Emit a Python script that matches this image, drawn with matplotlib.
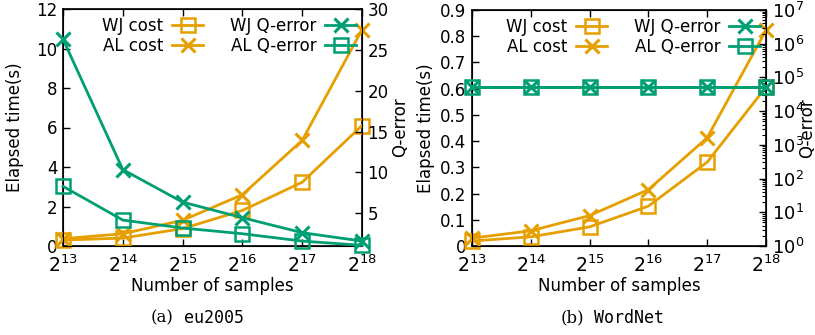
import math
import matplotlib
matplotlib.use("Agg")
import matplotlib.pyplot as plt
from matplotlib.ticker import FixedLocator, FuncFormatter, LogLocator, NullFormatter

plt.rcParams['font.family'] = ['DejaVu Sans']
plt.rcParams['mathtext.fontset'] = 'dejavusans'

samples = [2**13, 2**14, 2**15, 2**16, 2**17, 2**18]
sample_exps = [13, 14, 15, 16, 17, 18]

# eu2005
eu_wj_cost = [0.30, 0.40, 0.88, 1.80, 3.23, 6.10]
eu_al_cost = [0.37, 0.62, 1.30, 2.60, 5.35, 10.95]
eu_wj_qerr = [26.3, 10.35, 6.37, 4.46, 2.63, 1.6]
eu_al_qerr = [8.3, 4.17, 3.2, 2.5, 1.6, 1.08]

# WordNet
wn_wj_cost = [0.019, 0.035, 0.073, 0.152, 0.32, 0.606]
wn_al_cost = [0.030, 0.058, 0.116, 0.215, 0.413, 0.823]
wn_wj_qerr = [51000, 51000, 51000, 51000, 51000, 51000]
wn_al_qerr = [51000, 51000, 51000, 51000, 51000, 51000]

ORANGE = '#E69F00'
GREEN = '#009E73'

W, H = 815, 335
fig = plt.figure(figsize=(W / 100, H / 100), dpi=100)

FS = 12
XFS = 13.5
lw = 2.0
ms = 9.5
mew = 1.8


def xfmt(v, p):
    iv = int(round(v))
    if iv in samples:
        return r'$2^{%d}$' % sample_exps[samples.index(iv)]
    return ''


def make_panel(x0, x1, y0, y1, wj_c, al_c, wj_q, al_q, ylim, yticks, ytlabels,
               qlog, caption_lbl, caption_name, ylpad, y2lpad, cap_split):
    ax = fig.add_axes([x0 / W, (H - y1) / H, (x1 - x0) / W, (y1 - y0) / H])
    ax.set_xscale('log', base=2)
    ax.set_xlim(samples[0], samples[-1])
    ax.xaxis.set_major_locator(FixedLocator(samples))
    ax.xaxis.set_major_formatter(FuncFormatter(xfmt))
    ax.xaxis.set_minor_formatter(NullFormatter())
    ax.xaxis.set_minor_locator(FixedLocator([]))
    ax.set_ylim(*ylim)
    ax.set_yticks(yticks)
    ax.set_yticklabels(ytlabels)
    ax.tick_params(axis='both', direction='in', length=5, width=1, labelsize=FS, pad=4)
    ax.tick_params(axis='x', top=True, pad=6, labelsize=XFS)
    for s in ax.spines.values():
        s.set_linewidth(1.2)
    l1, = ax.plot(samples, wj_c, color=ORANGE, lw=lw, marker='s', ms=ms,
                  mfc='none', mew=mew, label='WJ cost', zorder=3)
    l2, = ax.plot(samples, al_c, color=ORANGE, lw=lw, marker='x', ms=ms + 1,
                  mew=mew + 0.4, label='AL cost', zorder=3)
    ax.set_xlabel('Number of samples', fontsize=FS, labelpad=1)
    ax.set_ylabel('Elapsed time(s)', fontsize=FS, labelpad=ylpad)

    ax2 = ax.twinx()
    if qlog:
        ax2.set_yscale('log')
        ax2.set_ylim(1, 1e7)
        ax2.yaxis.set_major_locator(FixedLocator([10**k for k in range(8)]))
        ax2.yaxis.set_major_formatter(FuncFormatter(lambda v, p: r'$10^{%d}$' % round(math.log10(v))))
        ax2.yaxis.set_minor_locator(LogLocator(base=10, subs=range(2, 10), numticks=20))
        ax2.yaxis.set_minor_formatter(NullFormatter())
        ax2.tick_params(axis='y', labelsize=13)
    else:
        ax2.set_ylim(1, 30)
        ax2.set_yticks([5, 10, 15, 20, 25, 30])
        ax2.tick_params(axis='y', labelsize=FS)
    ax2.tick_params(axis='y', direction='in', length=5, width=1, pad=4)
    ax2.tick_params(axis='y', which='minor', direction='in', length=3, width=0.8)
    l3, = ax2.plot(samples, wj_q, color=GREEN, lw=lw, marker='x', ms=ms + 1,
                   mew=mew + 0.4, label='WJ Q-error', zorder=3)
    l4, = ax2.plot(samples, al_q, color=GREEN, lw=lw, marker='s', ms=ms,
                   mfc='none', mew=mew, label='AL Q-error', zorder=3)
    ax2.set_ylabel('Q-error', fontsize=FS, labelpad=y2lpad)
    for ln in (l1, l2, l3, l4):
        ln.set_clip_on(False)
    leg = ax2.legend(handles=[l1, l2, l3, l4], ncol=2, loc='upper right',
                     bbox_to_anchor=(1.015, 1.01), frameon=False, markerfirst=False,
                     fontsize=FS, handlelength=1.9, handletextpad=0.5,
                     columnspacing=1.6, labelspacing=0.12, borderaxespad=0.2)
    for t in leg.get_texts():
        t.set_ha('right')
    fig.text(cap_split[0] / W, (H - 318) / H, caption_lbl, fontsize=12,
             family='DejaVu Serif', ha='right', va='center')
    fig.text(cap_split[1] / W, (H - 318) / H, caption_name, fontsize=12,
             family='DejaVu Sans Mono', ha='left', va='center')
    return ax, ax2


make_panel(63, 362, 9, 246, eu_wj_cost, eu_al_cost, eu_wj_qerr, eu_al_qerr,
           (0, 12), [0, 2, 4, 6, 8, 10, 12], ['0', '2', '4', '6', '8', '10', '12'],
           False, '(a)', 'eu2005', 9, 2, (174, 184))
make_panel(472, 766, 10, 246, wn_wj_cost, wn_al_cost, wn_wj_qerr, wn_al_qerr,
           (0, 0.9), [0, 0.1, 0.2, 0.3, 0.4, 0.5, 0.6, 0.7, 0.8, 0.9],
           ['0', '0.1', '0.2', '0.3', '0.4', '0.5', '0.6', '0.7', '0.8', '0.9'],
           True, '(b)', 'WordNet', 4, -4, (584, 594))

fig.savefig('out.png', dpi=100)
